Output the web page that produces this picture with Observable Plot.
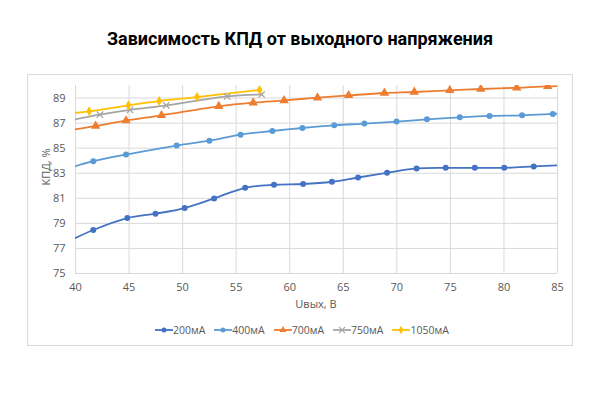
<!DOCTYPE html>
<html>
<head>
<meta charset="utf-8">
<script src="https://cdn.jsdelivr.net/npm/d3@7"></script>
<script src="https://cdn.jsdelivr.net/npm/@observablehq/plot@0.6"></script>
<style>
  html, body { margin: 0; padding: 0; background: #fff; }
  #wrap { position: relative; width: 600px; height: 400px; overflow: hidden; font-family: "Open Sans", sans-serif; }
  #title { position: absolute; left: 0; width: 600px; top: 28px; text-align: center;
           font-family: Roboto, "Noto Sans", sans-serif; font-weight: 700; font-size: 18px; color: #000; }
  #frame { position: absolute; left: 27px; top: 74px; width: 544px; height: 270px; border: 1px solid #d9d9d9; box-sizing: content-box; }
  #chart { position: absolute; left: 27px; top: 74px; }
  #ylab { position: absolute; left: 45px; top: 167px; transform: translate(-50%, -50%) rotate(-90deg);
          font-size: 11px; color: #595959; white-space: nowrap; }
  #xlab { position: absolute; left: 316px; top: 303px; transform: translate(-50%, -50%);
          font-size: 11px; color: #595959; white-space: nowrap; }
  #legend { position: absolute; left: 155px; top: 323px; display: flex;
            gap: 9px; font-size: 10.5px; color: #595959; align-items: center; }
  #legend .item { display: flex; align-items: center; gap: 0px; }
</style>
</head>
<body>
<div id="wrap">
  <div id="title">Зависимость КПД от выходного напряжения</div>
  <div id="frame"></div>
  <div id="chart"></div>
  <div id="ylab">КПД, %</div>
  <div id="xlab">Uвых, В</div>
  <div id="legend"></div>
</div>
<script>
// ---- data (voltage V, efficiency %) ----
const seriesNames = ["200мА", "400мА", "700мА", "750мА", "1050мА"];

const volts200 = [38.9, 41.66, 44.84, 47.47, 50.19, 52.94, 55.84, 58.53, 61.25, 63.94, 66.38, 69.09, 71.84, 74.56, 77.28, 80.03, 82.78, 85.53];
const eff200   = [77.37, 78.47, 79.42, 79.77, 80.22, 80.99, 81.84, 82.08, 82.14, 82.32, 82.66, 83.03, 83.38, 83.43, 83.43, 83.43, 83.54, 83.66];

const volts400 = [38.9, 41.66, 44.72, 49.44, 52.5, 55.41, 58.38, 61.19, 64.16, 66.97, 69.97, 72.81, 75.88, 78.66, 81.69, 84.56, 87.5];
const eff400   = [83.27, 83.96, 84.49, 85.21, 85.60, 86.08, 86.37, 86.61, 86.82, 86.96, 87.12, 87.30, 87.46, 87.57, 87.62, 87.73, 87.85];

const volts700 = [39.0, 41.88, 44.72, 48.03, 53.38, 56.59, 59.47, 62.59, 65.5, 68.84, 71.63, 74.94, 77.84, 81.19, 84.09, 87.0];
const eff700   = [86.37, 86.77, 87.20, 87.62, 88.34, 88.63, 88.81, 89.03, 89.21, 89.40, 89.48, 89.61, 89.72, 89.82, 89.93, 89.99];

const volts750 = [39.0, 42.28, 45.09, 48.47, 54.16, 57.38];
const eff750   = [87.14, 87.67, 88.05, 88.42, 89.13, 89.29];

const volts1050 = [39.0, 41.28, 44.94, 47.81, 51.34, 57.19];
const eff1050   = [87.75, 87.94, 88.42, 88.76, 89.08, 89.64];

const xTicks = [40, 45, 50, 55, 60, 65, 70, 75, 80, 85];
const yTicks = [75, 77, 79, 81, 83, 85, 87, 89];

// ---- build table ----
const seriesData = [
  [volts200, eff200], [volts400, eff400], [volts700, eff700], [volts750, eff750], [volts1050, eff1050]
];
const colors = ["#4472C4", "#5B9BD5", "#ED7D31", "#A5A5A5", "#FFC000"];
const symbols = ["circle", "circle", "triangle", "times", "diamond"];

const rows = [];
seriesData.forEach(([vs, es], i) => {
  vs.forEach((v, j) => rows.push({series: seriesNames[i], v, e: es[j]}));
});

const dotMarks = seriesNames.map((name, i) => {
  const data = rows.filter(d => d.series === name);
  const isStroke = symbols[i] === "times";
  return Plot.dot(data, {
    x: "v", y: "e", symbol: () => symbols[i],
    r: symbols[i] === "triangle" ? 3.5 : 3,
    fill: isStroke ? "none" : colors[i],
    stroke: isStroke ? colors[i] : "none",
    strokeWidth: 1.3,
    clip: true
  });
});

const chart = Plot.plot({
  width: 545,
  height: 245,
  marginLeft: 48,
  marginRight: 15,
  marginTop: 11,
  marginBottom: 46,
  style: { fontFamily: "'Open Sans', sans-serif", fontSize: "11px", color: "#595959", background: "transparent" },
  x: { domain: [40, 85] },
  y: { domain: [75, 90] },
  color: { domain: seriesNames, range: colors },
  symbol: { domain: ["circle", "triangle", "times", "diamond"], range: ["circle", "triangle", "times", "diamond"] },
  marks: [
    Plot.gridY(yTicks, { stroke: "#d9d9d9", strokeOpacity: 1 }),
    Plot.gridX(xTicks, { stroke: "#d9d9d9", strokeOpacity: 1 }),
    Plot.axisX(xTicks, { tickSize: 0, tickPadding: 10, label: null, fill: "#595959" }),
    Plot.axisY(yTicks, { tickSize: 0, tickPadding: 10, label: null, fill: "#595959" }),
    Plot.line(rows, { x: "v", y: "e", z: "series", stroke: "series", strokeWidth: 1.8, curve: "catmull-rom", clip: true }),
    ...dotMarks
  ]
});
document.getElementById("chart").appendChild(chart);

// ---- legend ----
const legend = d3.select("#legend");
const symMap = { circle: d3.symbolCircle, triangle: d3.symbolTriangle, times: d3.symbolTimes, diamond: d3.symbolDiamond };
seriesNames.forEach((name, i) => {
  const item = legend.append("div").attr("class", "item");
  const svg = item.append("svg").attr("width", 18).attr("height", 10);
  svg.append("line").attr("x1", 0).attr("x2", 18).attr("y1", 5).attr("y2", 5)
     .attr("stroke", colors[i]).attr("stroke-width", 1.8);
  const isStroke = symbols[i] === "times";
  svg.append("path").attr("transform", "translate(9,5)")
     .attr("d", d3.symbol(symMap[symbols[i]], isStroke ? 26 : 20)())
     .attr("fill", isStroke ? "none" : colors[i])
     .attr("stroke", isStroke ? colors[i] : "none")
     .attr("stroke-width", 1.1);
  item.append("span").text(name);
});
</script>
</body>
</html>
